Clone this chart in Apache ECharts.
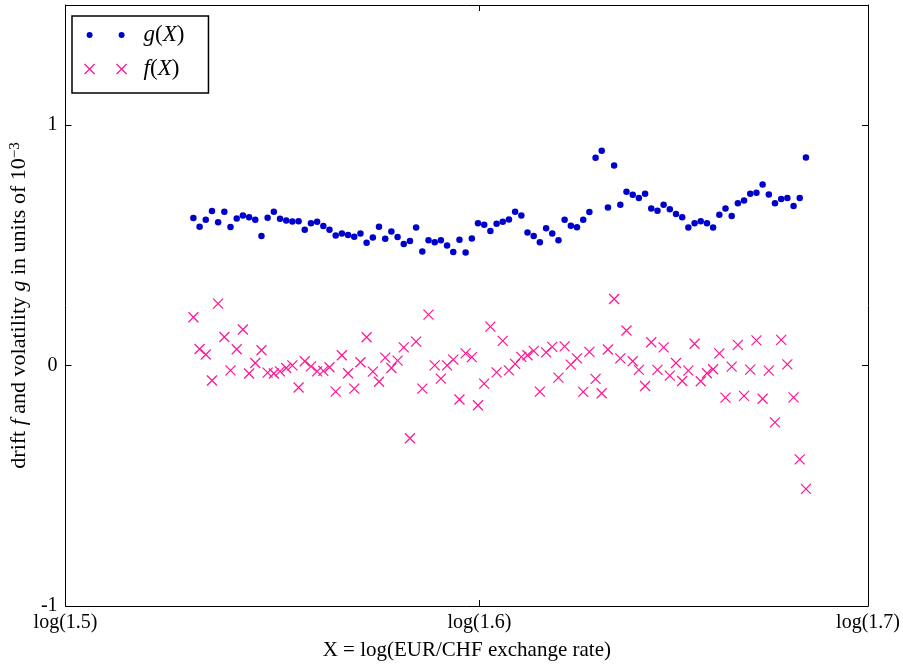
<!DOCTYPE html>
<html>
<head>
<meta charset="utf-8">
<script src="https://cdn.jsdelivr.net/npm/echarts@6/dist/echarts.min.js"></script>
<style>
  html, body { margin: 0; padding: 0; background: #fff; }
  #chart { width: 903px; height: 666px; }
</style>
</head>
<body>
<div id="chart"></div>
<script>
// X = log(rate), bin centres
const xValues = [
  0.42540, 0.42637, 0.42733, 0.42830, 0.42926, 0.43023, 0.43119, 0.43216, 0.43312, 0.43409,
  0.43505, 0.43602, 0.43698, 0.43795, 0.43891, 0.43988, 0.44084, 0.44181, 0.44277, 0.44374,
  0.44470, 0.44567, 0.44663, 0.44760, 0.44856, 0.44953, 0.45049, 0.45146, 0.45242, 0.45339,
  0.45435, 0.45532, 0.45628, 0.45725, 0.45821, 0.45918, 0.46014, 0.46111, 0.46207, 0.46304,
  0.46400, 0.46497, 0.46593, 0.46690, 0.46786, 0.46883, 0.46979, 0.47076, 0.47172, 0.47269,
  0.47365, 0.47462, 0.47558, 0.47655, 0.47751, 0.47848, 0.47944, 0.48041, 0.48137, 0.48234,
  0.48330, 0.48427, 0.48523, 0.48620, 0.48716, 0.48813, 0.48909, 0.49006, 0.49102, 0.49199,
  0.49295, 0.49392, 0.49488, 0.49585, 0.49681, 0.49778, 0.49874, 0.49971, 0.50067, 0.50164,
  0.50260, 0.50357, 0.50453, 0.50550, 0.50646, 0.50743, 0.50839, 0.50936, 0.51032, 0.51129,
  0.51225, 0.51322, 0.51418, 0.51515, 0.51611, 0.51708, 0.51804, 0.51901, 0.51997, 0.52094
];

// volatility g (units of 1e-3)
const gValues = [
  0.614, 0.578, 0.607, 0.643, 0.596, 0.640, 0.577, 0.612, 0.624, 0.617,
  0.607, 0.539, 0.615, 0.640, 0.611, 0.604, 0.599, 0.600, 0.565, 0.592,
  0.598, 0.581, 0.565, 0.541, 0.549, 0.543, 0.536, 0.549, 0.511, 0.533,
  0.578, 0.528, 0.558, 0.535, 0.506, 0.518, 0.574, 0.475, 0.521, 0.513,
  0.521, 0.500, 0.473, 0.523, 0.470, 0.529, 0.592, 0.586, 0.560, 0.590,
  0.598, 0.608, 0.640, 0.624, 0.554, 0.539, 0.513, 0.571, 0.549, 0.521,
  0.607, 0.582, 0.575, 0.607, 0.639, 0.865, 0.894, 0.658, 0.832, 0.669,
  0.723, 0.711, 0.697, 0.715, 0.653, 0.644, 0.669, 0.650, 0.631, 0.617,
  0.574, 0.592, 0.600, 0.592, 0.574, 0.627, 0.653, 0.622, 0.675, 0.687,
  0.715, 0.719, 0.753, 0.712, 0.675, 0.693, 0.697, 0.664, 0.697, 0.866
];

// drift f (units of 1e-3)
const fValues = [
  0.201, 0.069, 0.046, -0.062, 0.258, 0.119, -0.020, 0.068, 0.150, -0.033,
  0.011, 0.064, -0.029, -0.033, -0.024, -0.010, 0.001, -0.091, 0.018, -0.003,
  -0.024, -0.022, -0.007, -0.108, 0.043, -0.032, -0.096, 0.014, 0.118, -0.025,
  -0.067, 0.033, -0.010, 0.021, 0.076, -0.302, 0.100, -0.096, 0.212, 0.001,
  -0.054, 0.001, 0.025, -0.141, 0.051, 0.035, -0.165, -0.075, 0.162, -0.028,
  0.103, -0.020, 0.007, 0.036, 0.043, 0.061, -0.108, 0.055, 0.078, -0.050,
  0.080, 0.004, 0.030, -0.109, 0.057, -0.055, -0.115, 0.067, 0.277, 0.030,
  0.146, 0.018, -0.018, -0.085, 0.097, -0.018, 0.076, -0.042, 0.011, -0.064,
  -0.021, 0.091, -0.065, -0.032, -0.015, 0.051, -0.133, -0.004, 0.086, -0.126,
  -0.017, 0.105, -0.138, -0.021, -0.236, 0.107, 0.005, -0.132, -0.390, -0.513
];

const xTickRates = [1.5, 1.6, 1.7];
const yTicks = [-1, 0, 1];

const font = "'Liberation Serif', 'DejaVu Serif', serif";
const blue = '#0000cc';
const pink = '#ff1493';

const xTickValues = xTickRates.map(r => Math.log(r));
const xMin = xTickValues[0], xMax = xTickValues[xTickValues.length - 1];

const dotPair = 'path://M0,0M42,10M2,5A3,3,0,1,1,8,5A3,3,0,1,1,2,5ZM34,5A3,3,0,1,1,40,5A3,3,0,1,1,34,5Z';
const crossPair = 'path://M0,0L10,10M10,0L0,10M32,0L42,10M42,0L32,10';

const boxAxis = {
  axisLine: { show: true, onZero: false, lineStyle: { color: '#000', width: 1 } },
  splitLine: { show: false }
};

const chart = echarts.init(document.getElementById('chart'));
chart.setOption({
  animation: false,
  backgroundColor: '#fff',
  grid: { left: 61, right: 34, top: 5, bottom: 60 },
  legend: {
    orient: 'vertical',
    left: 72,
    top: 16,
    selectedMode: false,
    itemWidth: 42,
    itemHeight: 10,
    itemGap: 8,
    padding: [6, 24, 11, 12],
    borderColor: '#000',
    borderWidth: 1.5,
    backgroundColor: '#fff',
    textStyle: {
      fontFamily: font, fontSize: 23, color: '#000', lineHeight: 26,
      padding: [0, 0, 0, 12],
      rich: { i: { fontFamily: font, fontSize: 23, fontStyle: 'italic', color: '#000' } }
    },
    formatter: name => '{i|' + name.charAt(0) + '}({i|X})',
    data: [
      { name: 'g(X)', icon: dotPair, itemStyle: { color: blue, borderWidth: 0 } },
      { name: 'f(X)', icon: crossPair, itemStyle: { color: 'rgba(0,0,0,0)', borderColor: pink, borderWidth: 1.2 } }
    ]
  },
  xAxis: [
    Object.assign({
      type: 'value', position: 'bottom', min: xMin, max: xMax,
      name: 'X = log(EUR/CHF exchange rate)',
      nameLocation: 'middle', nameGap: 34,
      nameTextStyle: { fontFamily: font, fontSize: 21, color: '#000' },
      axisTick: { inside: true, length: 6, customValues: xTickValues, lineStyle: { color: '#000' } },
      axisLabel: {
        customValues: xTickValues, margin: 7,
        fontFamily: font, fontSize: 20, color: '#000',
        formatter: v => 'log(' + Math.exp(v).toFixed(1) + ')'
      }
    }, boxAxis),
    Object.assign({
      type: 'value', position: 'top', min: xMin, max: xMax,
      axisTick: { inside: true, length: 6, customValues: xTickValues, lineStyle: { color: '#000' } },
      axisLabel: { show: false }
    }, boxAxis)
  ],
  yAxis: [
    Object.assign({
      type: 'value', position: 'left', min: -1, max: 1.5,
      name: 'drift {i|f} and volatility {i|g} in units of 10{sup|\u22123}',
      nameLocation: 'middle', nameGap: 27,
      nameTextStyle: {
        fontFamily: font, fontSize: 22, color: '#000',
        rich: {
          i: { fontFamily: font, fontSize: 22, fontStyle: 'italic', color: '#000' },
          sup: { fontFamily: font, fontSize: 15, color: '#000', verticalAlign: 'top' }
        }
      },
      axisTick: { inside: true, length: 6, customValues: yTicks, lineStyle: { color: '#000' } },
      axisLabel: { customValues: yTicks, margin: 8, fontFamily: font, fontSize: 20, color: '#000' }
    }, boxAxis),
    Object.assign({
      type: 'value', position: 'right', min: -1, max: 1.5,
      axisTick: { inside: true, length: 6, customValues: yTicks, lineStyle: { color: '#000' } },
      axisLabel: { show: false }
    }, boxAxis)
  ],
  series: [
    {
      name: 'g(X)',
      type: 'scatter',
      symbol: 'circle',
      symbolSize: 6.5,
      itemStyle: { color: blue, opacity: 1 },
      data: xValues.map((x, i) => [x, gValues[i]])
    },
    {
      name: 'f(X)',
      type: 'scatter',
      symbol: 'path://M0,0L10,10M10,0L0,10',
      symbolSize: 10,
      itemStyle: { color: 'rgba(0,0,0,0)', borderColor: pink, borderWidth: 1.2, opacity: 1 },
      data: xValues.map((x, i) => [x, fValues[i]])
    }
  ]
});
</script>
</body>
</html>
